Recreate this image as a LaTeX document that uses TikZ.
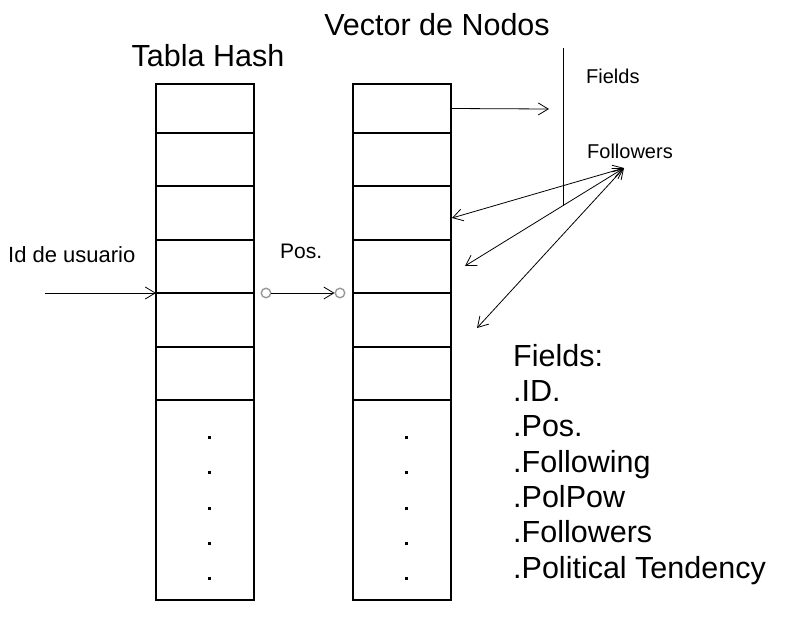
\documentclass[tikz,border=0pt]{standalone}
\usepackage{fontspec}
\setmainfont{Liberation Sans}
\usetikzlibrary{arrows.meta,positioning}
\tikzset{>={Straight Barb[length=10pt,width=12pt]}}
\tikzset{%
    celda/.style={draw,line width=1.2pt,minimum width=98pt,inner sep=0pt,outer sep=0pt},%
    flecha/.style={->,line width=0.8pt},%
    doble/.style={<->,line width=0.8pt},%
    puerto/.style={circle,draw=gray!80,line width=1.4pt,minimum size=9.5pt,inner sep=0pt},%
    grande/.style={font=\fontsize{30.5}{35.3}\selectfont,inner sep=0pt},%
    chico/.style={font=\fontsize{20}{24}\selectfont,inner sep=0pt}%
}
\newcommand{\Columna}[2]{%
  % #1 prefijo de nombres, #2 borde izquierdo
  \foreach \yt/\yb [count=\i] in {84/133,133/186,186/240,240/293,293/347,347/400,400/600} {%
    \node[celda,minimum height=\yb-\yt,anchor=north west] (#1\i) at (#2,\yt) {};
  }
  \foreach \yp in {437,472,508,543,578} {%
    \fill (#2+51.5,\yp-1.5) rectangle ++(3,3);
  }
}

\begin{document}
\begin{tikzpicture}[x=1pt,y=-1pt]
      \useasboundingbox (0,0) rectangle (809,627);
      \Columna{h}{156}
      \Columna{v}{353}
      \node[grande,anchor=base] (titH) at (208,66) {Tabla Hash};
      \node[grande,anchor=base] (titV) at (437,35) {Vector de Nodos};
      % entrada
      \node[chico,font=\fontsize{22}{26}\selectfont,anchor=base west] (usuario) at (8,262) {Id de usuario};
      \coordinate (entrada) at (45,293);
      \draw[flecha] (entrada) -- (h5.north west);
      % posicion
      \node[chico,font=\fontsize{21}{25}\selectfont,anchor=base west] (pos) at (280,258) {Pos.};
      \node[puerto] (p1) at (266,293) {};
      \node[puerto] (p2) at (340,293) {};
      \draw[flecha] (p1) -- (p2);
      % nodo
      \coordinate (campos) at (549,109);
      \draw[flecha] (v1.east) -- (campos);
      \coordinate (sepA) at (563,48);
      \coordinate (sepB) at (563,206);
      \draw[line width=0.8pt] (sepA) -- (sepB);
      \node[chico,anchor=base west] (fields) at (586,83) {Fields};
      \node[chico,anchor=base west] (followers) at (587,158) {Followers};
      \coordinate (seg) at (624,168);
      \coordinate (f1) at (452,218);
      \coordinate (f2) at (465,266);
      \coordinate (f3) at (477,328);
      \foreach \f in {f1,f2,f3} {%
        \draw[doble] (seg) -- (\f);
      }
      \node[grande,align=left,anchor=base west] (lista) at (513,578)
        {Fields:\\.ID.\\.Pos.\\.Following\\.PolPow\\.Followers\\.Political Tendency};
    \end{tikzpicture}
\end{document}
